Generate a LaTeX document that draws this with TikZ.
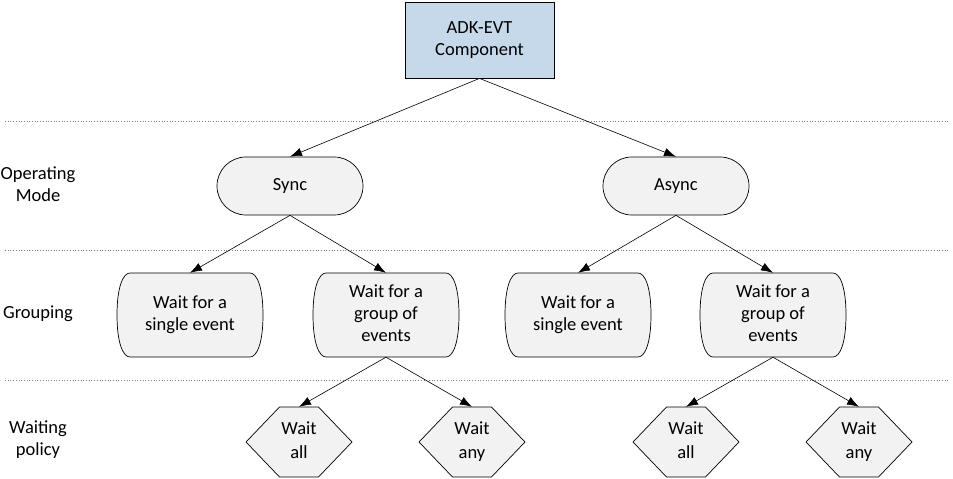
\documentclass[tikz,border=0pt]{standalone}
\usepackage{fontspec}
\setmainfont{Carlito}
\usetikzlibrary{arrows.meta,backgrounds}
\definecolor{topblue}{RGB}{198,217,235}
\definecolor{nodegray}{RGB}{242,242,242}
\newcommand\grpshape[1]{%
  \begin{scope}[shift={(#1.center)}]
    \draw[fill=nodegray,line width=0.7pt] (-60,-42) -- (60,-42)
      .. controls (67,-42) and (73,-28) .. (73,0)
      .. controls (73,28) and (67,42) .. (60,42) -- (-60,42)
      .. controls (-67,42) and (-73,28) .. (-73,0)
      .. controls (-73,-28) and (-67,-42) .. (-60,-42) -- cycle;
  \end{scope}}
\newcommand\hexshape[1]{%
  \begin{scope}[shift={(#1.center)}]
    \draw[fill=nodegray,line width=0.7pt] (-53,0) -- (-19.5,-35) -- (19.5,-35)
      -- (53,0) -- (19.5,35) -- (-19.5,35) -- cycle;
  \end{scope}}
\begin{document}
\begin{tikzpicture}[x=1pt,y=-1pt,
  txt/.style={font=\fontsize{18.5}{22}\selectfont, align=center, text=black},
  topbox/.style={txt, draw, fill=topblue, line width=0.8pt, minimum width=149pt, minimum height=76pt, inner sep=0pt},
  modebox/.style={txt, draw, fill=nodegray, rounded corners=28.9pt, minimum width=146pt, minimum height=58pt, inner sep=0pt, line width=0.7pt},
  grpbox/.style={txt, minimum width=146pt, minimum height=84pt, inner sep=0pt},
  hexbox/.style={txt, font=\fontsize{18.5}{24}\selectfont, minimum width=106pt, minimum height=70pt, inner sep=0pt},
  lbl/.style={txt},
  conn/.style={line width=0.6pt, -{Latex[length=12pt,width=8.5pt]}},
  sep/.style={gray, dotted, line width=0.7pt}]
\useasboundingbox (0,0) rectangle (953,479);

% separators
\coordinate (s1a) at (5,121); \coordinate (s1b) at (950,121);
\coordinate (s2a) at (5,250); \coordinate (s2b) at (950,250);
\coordinate (s3a) at (5,380); \coordinate (s3b) at (950,380);
\draw[sep] (s1a) -- (s1b);
\draw[sep] (s2a) -- (s2b);
\draw[sep] (s3a) -- (s3b);

% row labels
\node[lbl] (lmode) at (38,186) {Operating\strut\\Mode\strut};
\node[lbl] (lgrp) at (38,314) {Grouping\strut};
\node[lbl] (lwait) at (38,440) {Waiting\strut\\policy\strut};

% top
\node[topbox] (top) at (479.5,40) {ADK-EVT\strut\\Component\strut};

% modes
\node[modebox] (sync) at (290,186) {Sync\strut};
\node[modebox] (async) at (676,186) {Async\strut};

% grouping
\node[grpbox] (g1) at (190,315) {Wait for a\strut\\single event\strut};
\node[grpbox] (g2) at (386,315) {Wait for a\strut\\group of\strut\\events\strut};
\node[grpbox] (g3) at (578,315) {Wait for a\strut\\single event\strut};
\node[grpbox] (g4) at (773,315) {Wait for a\strut\\group of\strut\\events\strut};

% waiting policy
\node[hexbox] (h1) at (299,442) {Wait\strut\\all\strut};
\node[hexbox] (h2) at (472,442) {Wait\strut\\any\strut};
\node[hexbox] (h3) at (686,442) {Wait\strut\\all\strut};
\node[hexbox] (h4) at (859,442) {Wait\strut\\any\strut};

\begin{pgfonlayer}{background}
  \grpshape{g1}\grpshape{g2}\grpshape{g3}\grpshape{g4}
  \hexshape{h1}\hexshape{h2}\hexshape{h3}\hexshape{h4}
\end{pgfonlayer}

% connectors
\draw[conn] (top.south) -- (sync.north);
\draw[conn] (top.south) -- (async.north);
\draw[conn] (sync.south) -- (g1.north);
\draw[conn] (sync.south) -- (g2.north);
\draw[conn] (async.south) -- (g3.north);
\draw[conn] (async.south) -- (g4.north);
\draw[conn] (g2.south) -- (h1.north);
\draw[conn] (g2.south) -- (h2.north);
\draw[conn] (g4.south) -- (h3.north);
\draw[conn] (g4.south) -- (h4.north);
\end{tikzpicture}
\end{document}
